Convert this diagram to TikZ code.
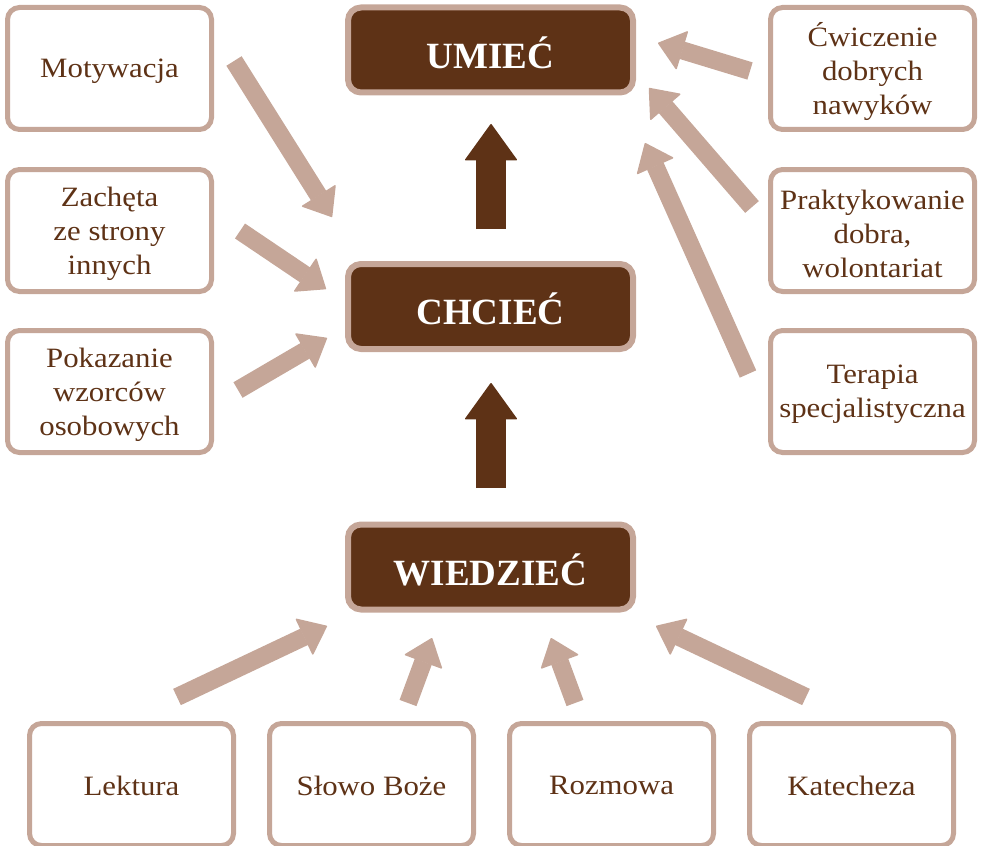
\documentclass[tikz,border=0pt]{standalone}
\usepackage{fontspec}
\setmainfont{Liberation Serif}
\newfontfamily\lblfont[FakeStretch=1.1]{Liberation Serif}
\usetikzlibrary{arrows.meta}
\definecolor{brownD}{HTML}{5E3216}
\definecolor{tanL}{HTML}{C5A698}
\begin{document}
\begin{tikzpicture}[x=1pt,y=-1pt,
  sidebox/.style={draw=tanL, line width=5pt, rounded corners=12pt, fill=white,
    minimum width=204pt, minimum height=122pt, inner sep=0pt},
  sidetext/.style={align=center, text=brownD, inner sep=0pt,
    font=\lblfont\fontsize{28}{34}\selectfont},
  keybox/.style={draw=tanL, line width=6pt, rounded corners=13pt, fill=brownD,
    minimum width=285pt, minimum height=85pt, inner sep=0pt},
  keytext/.style={text=white, inner sep=0pt,
    font=\bfseries\fontsize{37}{40}\selectfont},
  lightarrow/.style={draw=tanL, line width=18pt,
    -{Triangle[length=26pt,width=41pt,line width=1.5pt,round]}},
  darkarrow/.style={draw=brownD, line width=30pt,
    -{Triangle[length=37pt,width=53pt,line width=1.5pt,round]}}
]
\useasboundingbox (0,0) rectangle (981,845);
\clip (0,0) rectangle (981,845);

% central boxes
\node[keybox] (umiec) at (490.5,50) {};
\node[keybox] (chciec) at (490.5,306.5) {};
\node[keybox] (wiedziec) at (490.5,567) {};
\node[keytext] (tumiec) at ([yshift=-2.5pt]umiec.center) {UMIEĆ};
\node[keytext] (tchciec) at ([yshift=-2.5pt]chciec.center) {CHCIEĆ};
\node[keytext] (twiedziec) at ([yshift=-2.5pt]wiedziec.center) {WIEDZIEĆ};

% left boxes
\node[sidebox] (motyw) at (109.5,68.5) {};
\node[sidebox] (zacheta) at (109.5,230.5) {};
\node[sidebox] (pokaz) at (109.5,391.5) {};
% right boxes
\node[sidebox] (cwicz) at (872.5,68.5) {};
\node[sidebox] (prakt) at (872.5,230.5) {};
\node[sidebox] (terap) at (872.5,391.5) {};
% bottom boxes
\node[sidebox] (lekt) at (131.5,784.5) {};
\node[sidebox] (slowo) at (371.5,784.5) {};
\node[sidebox] (rozm) at (611.5,784.5) {};
\node[sidebox] (katech) at (851.5,784.5) {};

\node[sidetext] (tmotyw) at ([yshift=-3pt]motyw.center) {Motywacja};
\node[sidetext] (tzacheta) at ([yshift=-3pt]zacheta.center) {Zachęta\\ze strony\\innych};
\node[sidetext] (tpokaz) at ([yshift=-3pt]pokaz.center) {Pokazanie\\wzorców\\osobowych};
\node[sidetext] (tcwicz) at ([yshift=-3pt]cwicz.center) {Ćwiczenie\\dobrych\\nawyków};
\node[sidetext] (tprakt) at ([yshift=-3pt]prakt.center) {Praktykowanie\\dobra,\\wolontariat};
\node[sidetext] (tterap) at ([yshift=-3pt]terap.center) {Terapia\\specjalistyczna};
\node[sidetext] (tlekt) at ([yshift=-1pt]lekt.center) {Lektura};
\node[sidetext] (tslowo) at ([yshift=-1pt]slowo.center) {Słowo Boże};
\node[sidetext] (trozm) at ([yshift=-1pt]rozm.center) {Rozmowa};
\node[sidetext] (tkatech) at ([yshift=-1pt]katech.center) {Katecheza};

% arrow end points
\coordinate (a1s) at (234,61);  \coordinate (a1e) at (332,217);
\coordinate (a2s) at (240,231); \coordinate (a2e) at (326,289);
\coordinate (a3s) at (238,390); \coordinate (a3e) at (327,338);
\coordinate (a4s) at (750,71);  \coordinate (a4e) at (658,43);
\coordinate (a5s) at (752,207); \coordinate (a5e) at (649,88);
\coordinate (a6s) at (748,374); \coordinate (a6e) at (645,143);
\coordinate (a7s) at (177,697); \coordinate (a7e) at (327,626);
\coordinate (a8s) at (408,703); \coordinate (a8e) at (432,638);
\coordinate (a9s) at (575,703); \coordinate (a9e) at (551,638);
\coordinate (a10s) at (806,697); \coordinate (a10e) at (656,626);
\coordinate (d1s) at (491,229); \coordinate (d1e) at (491,124);
\coordinate (d2s) at (491,488); \coordinate (d2e) at (491,383);

\draw[lightarrow] (a1s) -- (a1e);
\draw[lightarrow] (a2s) -- (a2e);
\draw[lightarrow] (a3s) -- (a3e);
\draw[lightarrow] (a4s) -- (a4e);
\draw[lightarrow] (a5s) -- (a5e);
\draw[lightarrow] (a6s) -- (a6e);
\draw[lightarrow] (a7s) -- (a7e);
\draw[lightarrow] (a8s) -- (a8e);
\draw[lightarrow] (a9s) -- (a9e);
\draw[lightarrow] (a10s) -- (a10e);
\draw[darkarrow] (d1s) -- (d1e);
\draw[darkarrow] (d2s) -- (d2e);
\end{tikzpicture}
\end{document}
